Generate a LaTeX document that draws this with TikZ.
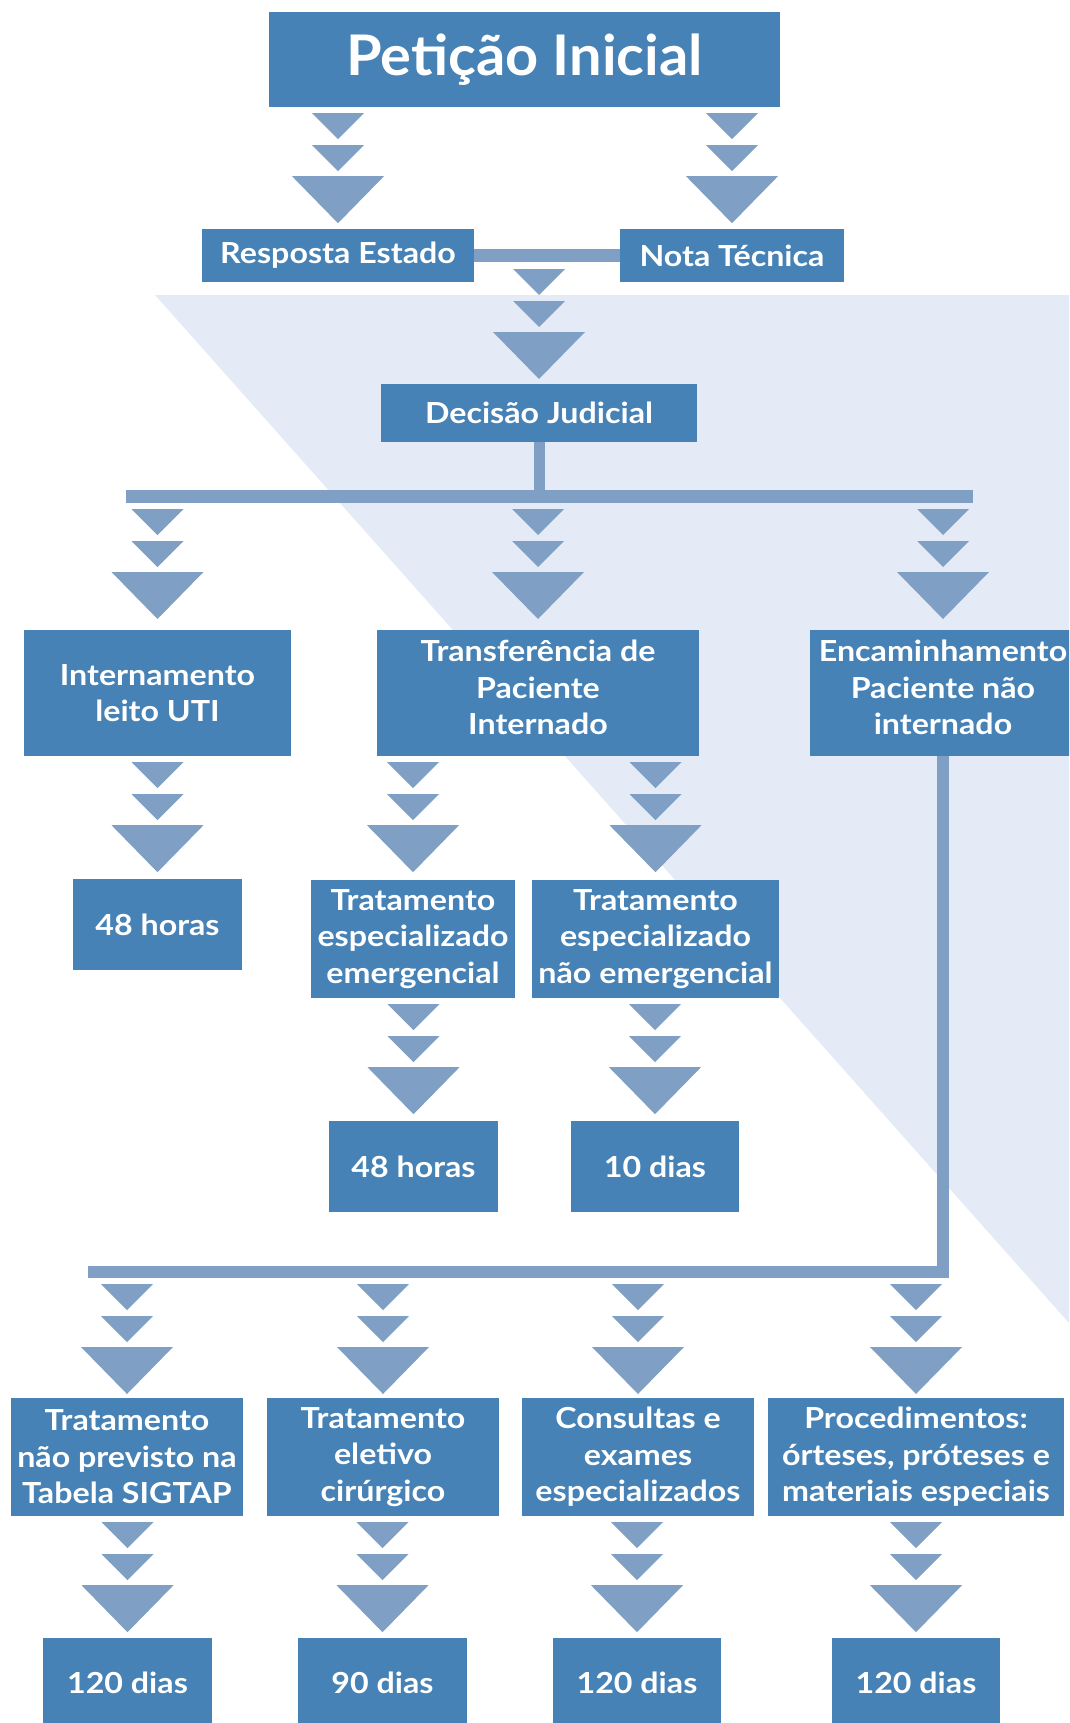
\documentclass[tikz,border=0pt]{standalone}
\usepackage{fontspec}
\setmainfont{Lato}
\newfontfamily\boxfont{Lato}[FakeStretch=1.11]
\newfontfamily\titlefont{Lato}[FakeStretch=1.03]
\definecolor{boxblue}{HTML}{4682B5}
\definecolor{tricol}{HTML}{7F9FC4}
\definecolor{bgcol}{HTML}{E4EBF7}
\begin{document}
\begin{tikzpicture}[x=1pt,y=-1pt,
  box/.style={fill=boxblue,text=white,inner sep=0pt,align=center,
    font=\boxfont\fontsize{29}{36.5}\selectfont\bfseries},
  bar/.style={draw=tricol,line width=13pt},
  tri/.style={fill=tricol}]
  \clip (0,0) rectangle (1069,1723);
  \fill[bgcol] (155,295) -- (1069,295) -- (1069,1323) -- cycle;
  \node[box,minimum width=511pt,minimum height=95pt,font=\titlefont\fontsize{56}{60}\selectfont\bfseries] (pet) at (524.5,59.5) {Petição Inicial};
  \node[box,minimum width=272pt,minimum height=53pt] (resp) at (338,255.5) {Resposta Estado};
  \node[box,minimum width=224pt,minimum height=53pt] (nota) at (732,255.5) {Nota Técnica};
  \node[box,minimum width=316pt,minimum height=58pt] (dec) at (539,413) {Decisão Judicial};
  \node[box,minimum width=267pt,minimum height=126pt] (int) at (157.5,693) {Internamento\\leito UTI};
  \node[box,minimum width=322pt,minimum height=126pt,text depth=11pt] (trf) at (538,693) {Transferência de\\Paciente\\Internado};
  \node[box,minimum width=266pt,minimum height=126pt,text depth=11pt] (enc) at (943,693) {Encaminhamento\\Paciente não\\internado};
  \node[box,minimum width=169pt,minimum height=91pt] (h48a) at (157.5,924.5) {48 horas};
  \node[box,minimum width=204pt,minimum height=118pt] (eme) at (413,939) {Tratamento\\especializado\\emergencial};
  \node[box,minimum width=247pt,minimum height=118pt] (nem) at (655.5,939) {Tratamento\\especializado\\não emergencial};
  \node[box,minimum width=169pt,minimum height=91pt] (h48b) at (413.5,1166.5) {48 horas};
  \node[box,minimum width=168pt,minimum height=91pt] (d10) at (655,1166.5) {10 dias};
  \node[box,minimum width=232pt,minimum height=118pt] (sig) at (127,1457) {Tratamento\\não previsto na\\Tabela SIGTAP};
  \node[box,minimum width=232pt,minimum height=118pt] (ele) at (383,1457) {Tratamento\\eletivo\\cirúrgico};
  \node[box,minimum width=232pt,minimum height=118pt] (con) at (638,1457) {Consultas e\\exames\\especializados};
  \node[box,minimum width=296pt,minimum height=118pt] (pro) at (916,1457) {Procedimentos:\\órteses, próteses e\\materiais especiais};
  \node[box,minimum width=169pt,minimum height=90pt] (d120a) at (127.5,1683) {120 dias};
  \node[box,minimum width=169pt,minimum height=90pt] (d90) at (382.5,1683) {90 dias};
  \node[box,minimum width=168pt,minimum height=90pt] (d120b) at (637,1683) {120 dias};
  \node[box,minimum width=168pt,minimum height=90pt] (d120c) at (916,1683) {120 dias};
  \coordinate (b0) at (0,263);
  \coordinate (l1) at (126,496.5);
  \coordinate (r1) at (973,496.5);
  \coordinate (b1) at (0,503);
  \coordinate (l2) at (88,1272);
  \coordinate (b2) at (0,1278);
  \draw[bar] (resp.east) -- (nota.west);
  \draw[bar,line width=11pt] (dec.south) -- (dec.south |- l1);
  \draw[bar] (l1) -- (r1);
  \draw[bar,line width=12pt] (enc.south) |- (l2);
  \foreach \s/\d in {pet.south/resp,pet.south/nota,b0/dec,b1/int,b1/trf,b1/enc,
      int.south/h48a,trf.south/eme,trf.south/nem,eme.south/h48b,nem.south/d10,
      b2/sig,b2/ele,b2/con,b2/pro,sig.south/d120a,ele.south/d90,con.south/d120b,pro.south/d120c}
    \fill[tri,shift={(\d.north |- \s)}] (-26,6) -- (26,6) -- (0,32) -- cycle
      (-26,38) -- (26,38) -- (0,64) -- cycle (-46,69) -- (46,69) -- (0,116) -- cycle;
\end{tikzpicture}
\end{document}
